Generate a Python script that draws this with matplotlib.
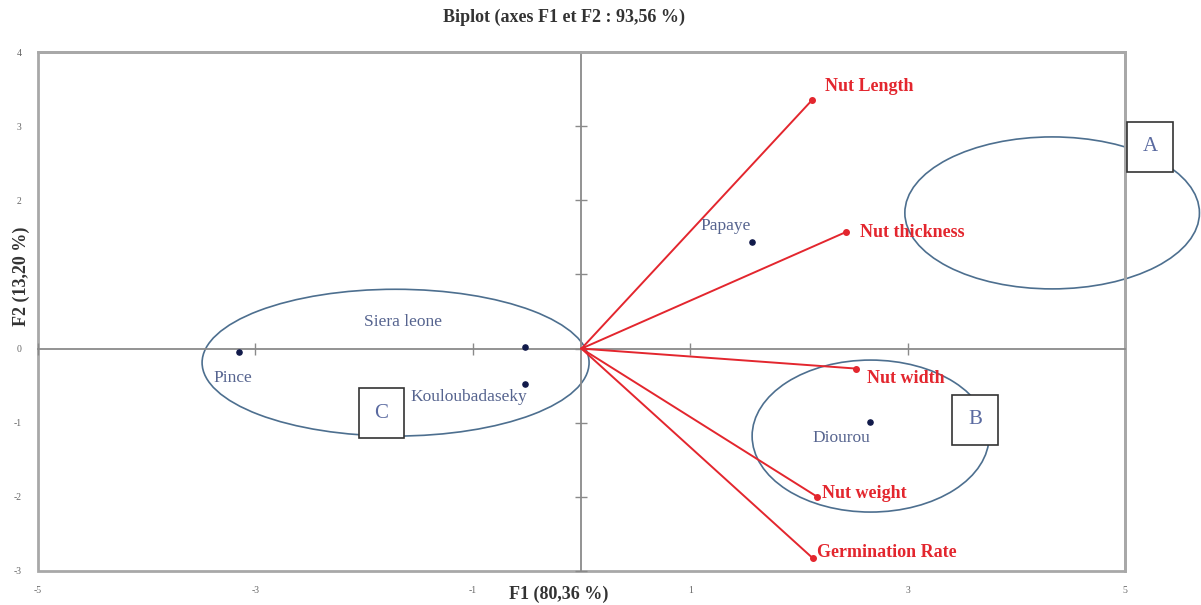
import matplotlib.pyplot as plt
from matplotlib.patches import Ellipse

plt.rcParams['font.family'] = ['Liberation Serif', 'DejaVu Serif']
plt.rcParams['axes.unicode_minus'] = False

# Observations (cultivars) on F1/F2
obs_names = ["Pince", "Siera leone", "Kouloubadaseky", "Papaye", "Diourou"]
obs_f1 = [-3.15, -0.52, -0.52, 1.57, 2.65]
obs_f2 = [-0.05, 0.02, -0.48, 1.44, -0.99]

# Variables (loadings)
var_names = ["Nut Length", "Nut thickness", "Nut width", "Nut weight", "Germination Rate"]
var_f1 = [2.12, 2.43, 2.53, 2.17, 2.13]
var_f2 = [3.35, 1.57, -0.27, -2.00, -2.83]

# Groups: centre, width, height
groups = ["A", "B", "C"]
group_centres = [(4.33, 1.83), (2.66, -1.18), (-1.71, -0.19)]
group_sizes = [(2.71, 2.05), (2.18, 2.05), (3.56, 1.98)]
group_tags = [(5.23, 2.72), (3.62, -0.96), (-1.84, -0.87)]

xticks = [-5, -3, -1, 1, 3, 5]
yticks = [-3, -2, -1, 0, 1, 2, 3, 4]

fig = plt.figure(figsize=(12.01, 6.05), dpi=100)
ax = fig.add_axes([0.0316, 0.0562, 0.9051, 0.8578])
ax.set_xlim(-5, 5)
ax.set_ylim(-3, 4)

# outer frame
for s in ["top", "right"]:
    ax.spines[s].set_color("#a8a8a8")
    ax.spines[s].set_linewidth(2)
ax.patch.set_edgecolor("#a8a8a8")
ax.patch.set_linewidth(2)

# axes through the origin
ax.spines["left"].set_position(("data", 0))
ax.spines["bottom"].set_position(("data", 0))
for s in ["left", "bottom"]:
    ax.spines[s].set_color("#8a8a8a")
    ax.spines[s].set_linewidth(1.3)
ax.set_xticks(xticks)
ax.set_yticks(yticks)
ax.tick_params(direction="inout", length=8, width=1, color="#8a8a8a",
               labelbottom=False, labelleft=False)

# tick labels along the outer frame
secx = ax.secondary_xaxis(0)
secx.set_xticks(xticks)
secx.tick_params(length=0, labelsize=7, labelcolor="#666666", pad=11)
secx.spines["bottom"].set_visible(False)
secy = ax.secondary_yaxis(0)
secy.set_yticks(yticks)
secy.set_yticklabels([str(v) if v != 1 else "" for v in yticks])
secy.tick_params(length=0, labelsize=7, labelcolor="#666666", pad=12)
secy.spines["left"].set_visible(False)

fig.text(0.4695, 0.972, "Biplot (axes F1 et F2 : 93,56 %)", fontsize=13,
         fontweight="bold", color="#333333", ha="center", va="center")
fig.text(0.4655, 0.018, "F1 (80,36 %)", fontsize=13, fontweight="bold",
         color="#333333", ha="center", va="center")
fig.text(0.018, 0.544, "F2 (13,20 %)", fontsize=13, fontweight="bold",
         color="#333333", ha="center", va="center", rotation=90)

# variable vectors
red = "#e3262e"
for name, x, y in zip(var_names, var_f1, var_f2):
    ax.plot([0, x], [0, y], color=red, lw=1.4, zorder=3)
    ax.plot(x, y, "o", color=red, ms=4, zorder=4)
label_off = [(0.12, 0.19), (0.13, 0.0), (0.10, -0.13), (0.04, 0.05), (0.04, 0.085)]
for name, x, y, (dx, dy) in zip(var_names, var_f1, var_f2, label_off):
    ax.text(x + dx, y + dy, name, color=red, fontsize=13, fontweight="bold",
            ha="left", va="center", zorder=5)

# observations
navy = "#111a4a"
txt = "#56648f"
ax.scatter(obs_f1, obs_f2, s=14, color=navy, zorder=5)
obs_lab = [(-0.06, -0.35), (-1.12, 0.34), (-0.52, -0.17), (-0.24, 0.21), (-0.26, -0.22)]
for name, x, y, (dx, dy) in zip(obs_names, obs_f1, obs_f2, obs_lab):
    ax.text(x + dx, y + dy, name, color=txt, fontsize=12.5, ha="center",
            va="center", zorder=5)

# group ellipses and tags
for tag, (cx, cy), (w, h), (tx, ty) in zip(groups, group_centres, group_sizes, group_tags):
    ax.add_patch(Ellipse((cx, cy), w, h, fill=False, ec="#4d6f8f", lw=1.2,
                         clip_on=False, zorder=2))
    ax.text(tx, ty, tag, color="#5a6aa0", fontsize=15, ha="center", va="center",
            zorder=6, clip_on=False,
            bbox=dict(boxstyle="square,pad=0.75", fc="white", ec="#333333", lw=1.2))

fig.savefig("out.png", dpi=100)
